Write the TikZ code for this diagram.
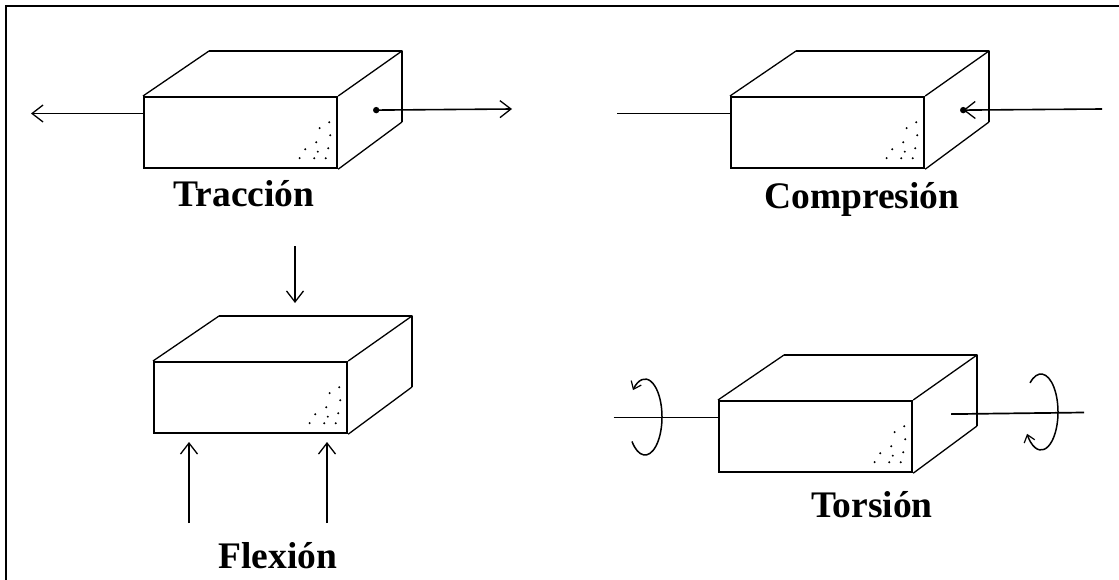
\documentclass[tikz,border=0pt]{standalone}
\usepackage{fontspec}
\setmainfont{Liberation Serif}
\usetikzlibrary{arrows.meta}

\tikzset{
  marco/.style={line width=2.4pt},
  frente/.style={draw,line width=2.2pt,minimum width=193pt,minimum height=71pt,inner sep=0pt,anchor=north west},
  arista/.style={line width=2.2pt,line join=round},
  diagonal/.style={line width=1.3pt},
  eje/.style={line width=1.7pt},
  fuerza/.style={line width=1.6pt,-{Straight Barb[length=11pt,width=17pt,line width=1.3pt]}},
  giro/.style={line width=1.5pt,-{Straight Barb[length=7pt,width=11pt,line width=1.2pt]}},
  etiqueta/.style={font=\fontsize{37.5}{40}\selectfont\bfseries,anchor=base,inner sep=0pt},
}

% bloque en perspectiva: #1 nombre, #2 esquina superior izquierda de la cara frontal
\newcommand{\bloque}[2]{
  \node[frente] (#1) at (#2) {};
  \path (#1.north west) ++(66,-45) coordinate (#1-a);
  \path (#1-a) ++(193,0) coordinate (#1-b);
  \path (#1-b) ++(0,71) coordinate (#1-c);
  \draw[diagonal] (#1.north west) -- (#1-a);
  \draw[diagonal] (#1.north east) -- (#1-b);
  \draw[diagonal] (#1.south east) -- (#1-c);
  \draw[arista] (#1-a) -- (#1-b) -- (#1-c);
  % puntos de apoyo de los ejes
  \path (#1.north west) ++(0,17.5) coordinate (#1-i);
  \path (#1.east) ++(38,-22.5) coordinate (#1-e);
  % punteado de la cara frontal
  \foreach \dx/\dy in {-9/-47,-18.6/-41,-8/-34,-22/-27,-33/-20,-20.4/-17.5,-10/-21,-38.6/-11,-24/-11,-12.5/-11}
    \fill (#1.south east) ++(\dx,\dy) circle (1.1pt);
}

\begin{document}
\begin{tikzpicture}[x=1pt,y=-1pt]
  \useasboundingbox (0,0) rectangle (1119,580);
  \draw[marco] (6,590) -- (6,6) -- (1130,6);

  \bloque{trac}{143,96}
  \bloque{comp}{730,96}
  \bloque{flex}{153,361}
  \bloque{tors}{718,400}

  % traccion
  \coordinate (trac-izq) at (31,113.5);
  \coordinate (trac-der) at (512,109);
  \draw[fuerza] (trac-i) -- (trac-izq);
  \draw[fuerza] (trac-e) -- (trac-der);
  \fill (trac-e) circle (3.2pt);
  \node[etiqueta] (trac-txt) at (244,207) {Tracción};

  % compresion
  \coordinate (comp-izq) at (617,113.5);
  \coordinate (comp-der) at (1102,109);
  \draw[eje] (comp-izq) -- (comp-i);
  \draw[fuerza] (comp-der) -- (comp-e);
  \fill (comp-e) circle (3.2pt);
  \node[etiqueta] (comp-txt) at (862,209) {Compresión};

  % flexion
  \coordinate (flex-sup) at (295,246);
  \coordinate (flex-top) at (295,303);
  \coordinate (flex-i1) at (189,523);
  \coordinate (flex-i2) at (189,442);
  \coordinate (flex-d1) at (327,523);
  \coordinate (flex-d2) at (327,442);
  \draw[fuerza] (flex-sup) -- (flex-top);
  \draw[fuerza] (flex-i1) -- (flex-i2);
  \draw[fuerza] (flex-d1) -- (flex-d2);
  \node[etiqueta] (flex-txt) at (278,568) {Flexión};

  % torsion
  \coordinate (tors-izq) at (613.5,417.5);
  \coordinate (tors-der) at (1084,412.5);
  \draw[eje] (tors-izq) -- (tors-i);
  \draw[eje] (tors-e) -- (tors-der);
  \path (645,417) ++(140:17 and 38) coordinate (giro-izq);
  \path (1041,412) ++(-130:17 and 38) coordinate (giro-der);
  \draw[giro] (giro-izq) arc[start angle=140,end angle=-135,x radius=17,y radius=38];
  \draw[giro] (giro-der) arc[start angle=-130,end angle=145,x radius=17,y radius=38];
  \node[etiqueta] (tors-txt) at (872,517) {Torsión};
\end{tikzpicture}
\end{document}
